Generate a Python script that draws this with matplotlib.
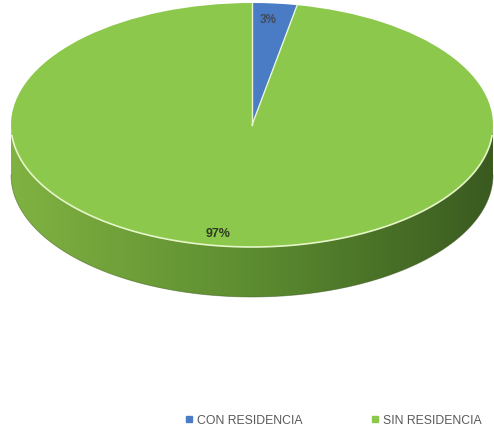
import numpy as np
import matplotlib
matplotlib.use("Agg")
import matplotlib.pyplot as plt
from matplotlib.patches import Wedge, Polygon
from matplotlib.lines import Line2D
from matplotlib.colors import LinearSegmentedColormap

# data
categories = ["CON RESIDENCIA", "SIN RESIDENCIA"]
values = [3, 97]
top_colors = ["#4a7cc6", "#8cc84b"]
side_colors = [["#3a62a0", "#23406e"], ["#80b242", "#5c8c30", "#3a5a20"]]

plt.rcParams["font.family"] = ["Liberation Sans", "DejaVu Sans"]

fig = plt.figure(figsize=(4.94, 4.32), dpi=100)
ax = fig.add_axes([0, 0, 1, 1])
# unit circle -> ellipse of 241 x 122 px, centre at (252, 125) px
ax.set_xlim(-252 / 241, (494 - 252) / 241)
ax.set_ylim(-307 / 122, 125 / 122)
ax.axis("off")

depth = 50 / 122
fracs = np.array(values) / sum(values)
ends = 90 - 360 * np.cumsum(fracs)
starts = np.concatenate([[90], ends[:-1]])

# side wall (front half only)
for i in range(len(values)):
    t1, t2 = ends[i], starts[i]
    for k in (-360, 0, 360):
        a1 = max(t1 + k, 180)
        a2 = min(t2 + k, 360)
        if a2 <= a1:
            continue
        th = np.radians(np.linspace(a1, a2, 200))
        top = np.column_stack([np.cos(th), np.sin(th)])
        bot = np.column_stack([np.cos(th[::-1]), np.sin(th[::-1]) - depth])
        poly = Polygon(np.vstack([top, bot]), closed=True, facecolor="none",
                       edgecolor="none")
        ax.add_patch(poly)
        cmap = LinearSegmentedColormap.from_list("side%d" % i, side_colors[i])
        grad = np.linspace(0, 1, 256).reshape(1, -1)
        im = ax.imshow(grad, cmap=cmap, aspect="auto",
                       extent=[-1, 1, -1 - depth, 0], zorder=1)
        im.set_clip_path(poly)
        ax.plot(np.cos(th), np.sin(th) - depth, color="#3a5520", lw=0.6,
                alpha=0.5, zorder=2)

# top of the pie
for i in range(len(values)):
    w = Wedge((0, 0), 1, ends[i], starts[i], facecolor=top_colors[i],
              edgecolor="none", zorder=3)
    ax.add_patch(w)
# slice borders
for a in starts:
    r = np.radians(a)
    ax.plot([0, np.cos(r)], [0, np.sin(r)], color="#e8f5d0", lw=1.0, zorder=4)

# light rim between top and side
th = np.radians(np.linspace(185, 355, 300))
ax.plot(np.cos(th), np.sin(th), color="#e6f6c8", lw=1.2, zorder=4)

# percentage labels
ax.text(0.066, 0.86, "%d%%" % values[0], ha="center", va="center",
        fontsize=8.5, fontweight="bold", color="#404a5a", zorder=5)
ax.text(-0.14, -0.89, "%d%%" % values[1], ha="center", va="center",
        fontsize=9, fontweight="bold", color="#2e3b22", zorder=5)

handles = [Line2D([], [], marker="s", ls="none", markersize=4,
                  markerfacecolor=c, markeredgecolor=c) for c in top_colors]
fig.legend(handles, categories, loc="center", bbox_to_anchor=(0.675, 0.026),
           ncol=2, frameon=False, fontsize=8.8, labelcolor="#595959",
           handlelength=0.6, handletextpad=0.4, columnspacing=5.6)

fig.savefig("out.png", dpi=100)
